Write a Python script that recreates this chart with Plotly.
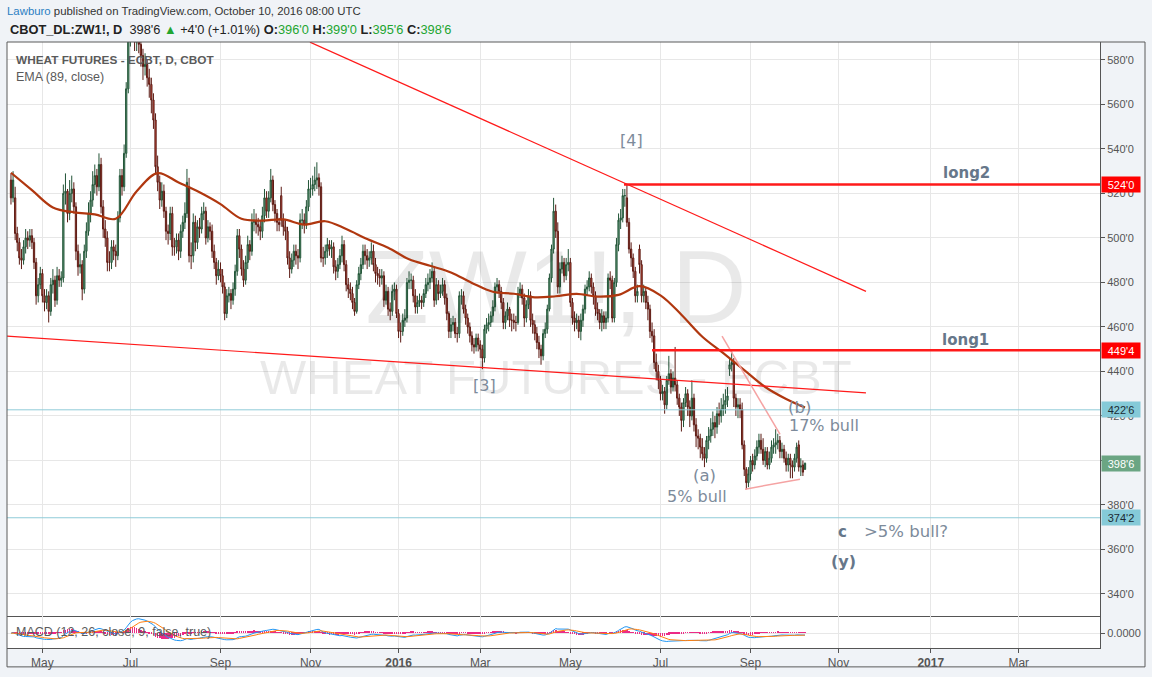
import numpy as np
import pandas as pd
import plotly.graph_objects as go
from plotly.subplots import make_subplots

# ---------------- data ----------------
holidays = ["2015-05-25", "2015-07-03", "2015-09-07", "2015-11-26", "2015-12-25",
            "2016-01-01", "2016-01-18", "2016-02-15", "2016-03-25", "2016-05-30",
            "2016-07-04", "2016-09-05"]

opens = [
    526, 518, 518, 502, 498, 491, 490, 496, 500, 499,
    501, 498, 489, 474, 479, 484, 474, 471, 474, 467,
    479, 481, 472, 483, 481, 482, 520, 521, 511, 520,
    522, 514, 494, 487, 488, 477, 494, 503, 511, 517,
    524, 528, 523, 533, 514, 504, 500, 489, 489, 496,
    494, 492, 509, 528, 523, 538, 567, 590, 597, 594,
    588, 592, 587, 582, 577, 578, 572, 569, 562, 553,
    532, 525, 517, 521, 512, 503, 502, 511, 496, 496,
    499, 494, 503, 507, 511, 523, 492, 492, 507, 498,
    505, 504, 511, 512, 500, 505, 503, 494, 489, 483,
    486, 483, 478, 466, 474, 475, 472, 477, 485, 501,
    495, 486, 481, 489, 497, 494, 507, 508, 506, 505,
    503, 510, 518, 512, 518, 526, 515, 511, 507, 519,
    508, 505, 503, 491, 486, 490, 494, 492, 491, 508,
    508, 506, 514, 522, 522, 524, 526, 527, 523, 491,
    491, 494, 497, 495, 496, 487, 485, 488, 492, 497,
    488, 479, 477, 475, 471, 467, 479, 484, 488, 494,
    492, 490, 491, 494, 488, 484, 483, 482, 483, 472,
    476, 468, 467, 476, 477, 466, 458, 458, 463, 464,
    480, 481, 481, 474, 469, 471, 472, 471, 475, 479,
    480, 482, 485, 472, 479, 475, 476, 479, 473, 466,
    458, 461, 462, 457, 457, 474, 474, 468, 464, 460,
    456, 452, 451, 455, 452, 450, 446, 459, 461, 462,
    465, 469, 478, 479, 476, 471, 462, 465, 468, 463,
    463, 462, 462, 475, 477, 473, 464, 470, 474, 463,
    461, 457, 453, 450, 447, 457, 459, 468, 482, 495,
    512, 503, 478, 486, 489, 483, 488, 489, 471, 464,
    462, 463, 458, 463, 468, 477, 478, 482, 478, 474,
    468, 466, 462, 465, 462, 464, 482, 481, 464, 480,
    497, 508, 509, 519, 518, 507, 495, 491, 485, 474,
    495, 488, 474, 476, 471, 468, 458, 456, 444, 440,
    436, 430, 431, 425, 436, 439, 433, 437, 434, 428,
    424, 418, 426, 430, 424, 420, 428, 416, 411, 410,
    406, 403, 401, 409, 411, 414, 417, 415, 421, 420,
    423, 425, 427, 441, 443, 444, 428, 424, 425, 423,
    407, 396, 390, 394, 400, 398, 402, 406, 409, 405,
    400, 404, 398, 401, 406, 407, 408, 409, 404, 405,
    401, 398, 401, 398, 397, 401, 407, 397, 398, 396,
]
highs = [
    529, 530, 523, 505, 500, 495, 499, 504, 503, 504,
    504, 500, 491, 482, 487, 486, 477, 477, 476, 482,
    486, 483, 487, 486, 485, 524, 529, 522, 526, 528,
    525, 516, 497, 493, 490, 497, 507, 516, 521, 530,
    533, 531, 538, 536, 517, 508, 503, 494, 499, 499,
    497, 512, 531, 531, 542, 570, 594, 604, 605, 598,
    596, 595, 590, 585, 583, 580, 576, 572, 565, 556,
    537, 528, 525, 524, 514, 506, 514, 514, 500, 502,
    502, 506, 510, 516, 531, 527, 498, 511, 510, 508,
    509, 514, 516, 514, 508, 507, 506, 497, 491, 490,
    489, 486, 480, 477, 478, 477, 480, 488, 504, 504,
    497, 490, 492, 501, 499, 511, 513, 511, 509, 508,
    514, 522, 521, 521, 531, 528, 517, 513, 509, 523,
    511, 508, 505, 494, 493, 497, 497, 495, 511, 513,
    511, 517, 526, 527, 528, 532, 534, 529, 525, 496,
    497, 500, 499, 499, 498, 490, 491, 495, 501, 499,
    490, 482, 480, 478, 473, 481, 487, 491, 497, 497,
    495, 494, 498, 497, 491, 487, 486, 486, 485, 479,
    478, 471, 479, 480, 479, 468, 462, 466, 468, 482,
    485, 484, 483, 477, 474, 475, 474, 477, 482, 484,
    486, 489, 487, 482, 481, 479, 482, 481, 475, 467,
    464, 465, 464, 460, 476, 477, 476, 470, 466, 462,
    458, 455, 457, 457, 454, 452, 461, 464, 466, 467,
    472, 480, 482, 481, 478, 473, 467, 471, 469, 466,
    466, 465, 478, 480, 479, 475, 472, 477, 476, 466,
    463, 460, 456, 452, 459, 462, 470, 484, 497, 518,
    515, 507, 489, 492, 491, 491, 495, 491, 473, 467,
    466, 465, 466, 470, 479, 481, 485, 484, 480, 476,
    471, 468, 468, 467, 467, 484, 485, 483, 482, 500,
    511, 513, 522, 522, 524, 509, 498, 493, 487, 479,
    497, 490, 479, 478, 474, 470, 462, 459, 448, 443,
    438, 434, 433, 438, 447, 441, 440, 451, 436, 430,
    426, 428, 433, 432, 427, 436, 430, 419, 414, 412,
    410, 406, 411, 415, 419, 422, 420, 424, 426, 428,
    430, 432, 433, 446, 449, 446, 430, 428, 428, 426,
    409, 397, 397, 402, 403, 405, 409, 412, 412, 410,
    406, 406, 404, 409, 410, 414, 412, 411, 408, 407,
    404, 403, 403, 400, 403, 408, 409, 401, 400, 399,
]
lows = [
    515, 516, 499, 494, 488, 486, 488, 493, 495, 496,
    495, 486, 470, 471, 477, 471, 467, 468, 462, 465,
    475, 469, 470, 478, 478, 480, 515, 507, 508, 516,
    511, 490, 483, 484, 472, 475, 491, 501, 507, 514,
    520, 519, 521, 511, 500, 496, 485, 485, 486, 490,
    487, 490, 507, 519, 521, 536, 565, 586, 589, 584,
    584, 583, 577, 571, 573, 568, 563, 556, 549, 529,
    521, 513, 514, 509, 499, 497, 499, 492, 492, 493,
    490, 491, 500, 504, 509, 489, 486, 489, 494, 495,
    500, 502, 508, 497, 498, 499, 491, 486, 479, 481,
    480, 475, 463, 464, 471, 468, 470, 474, 483, 491,
    483, 478, 479, 486, 490, 492, 503, 502, 501, 499,
    500, 507, 509, 509, 516, 512, 507, 503, 503, 505,
    501, 499, 488, 482, 484, 487, 488, 486, 489, 504,
    502, 504, 512, 518, 519, 521, 522, 519, 489, 487,
    488, 491, 492, 491, 484, 481, 482, 486, 489, 485,
    476, 473, 472, 468, 465, 466, 477, 481, 486, 488,
    486, 487, 488, 485, 480, 479, 478, 479, 469, 470,
    465, 463, 465, 472, 464, 455, 453, 456, 460, 462,
    477, 477, 471, 466, 466, 469, 468, 469, 473, 476,
    477, 480, 469, 470, 472, 473, 474, 470, 463, 455,
    455, 458, 455, 453, 455, 470, 466, 461, 457, 453,
    449, 448, 449, 449, 446, 441, 444, 457, 458, 460,
    462, 467, 475, 473, 468, 459, 459, 463, 460, 458,
    459, 458, 461, 473, 470, 460, 462, 468, 460, 457,
    454, 450, 446, 443, 445, 455, 457, 467, 480, 493,
    500, 475, 475, 484, 480, 481, 485, 469, 461, 458,
    459, 455, 454, 460, 466, 474, 476, 475, 470, 465,
    463, 459, 458, 459, 459, 462, 477, 462, 462, 478,
    494, 504, 507, 514, 505, 493, 487, 482, 471, 471,
    484, 471, 471, 468, 463, 455, 453, 441, 436, 432,
    427, 427, 421, 423, 434, 430, 431, 431, 425, 420,
    413, 415, 424, 420, 415, 418, 413, 406, 405, 401,
    400, 397, 399, 405, 408, 411, 410, 412, 416, 417,
    420, 421, 424, 438, 440, 424, 420, 419, 419, 405,
    393, 387, 388, 391, 395, 396, 400, 403, 403, 398,
    397, 396, 396, 399, 403, 403, 405, 401, 401, 399,
    395, 395, 392, 392, 395, 399, 395, 393, 393, 395.75,
]
closes = [
    518, 526, 502, 498, 491, 490, 496, 500, 499, 501,
    498, 489, 474, 479, 484, 474, 471, 474, 467, 479,
    481, 472, 483, 481, 482, 520, 521, 511, 520, 522,
    514, 494, 487, 488, 477, 494, 503, 511, 517, 524,
    528, 523, 533, 514, 504, 500, 489, 489, 496, 494,
    492, 509, 528, 523, 538, 567, 590, 597, 594, 588,
    592, 587, 582, 577, 578, 572, 569, 562, 553, 532,
    525, 517, 521, 512, 503, 502, 511, 496, 496, 499,
    494, 503, 507, 511, 525, 492, 492, 507, 498, 505,
    504, 511, 512, 500, 505, 503, 494, 489, 483, 486,
    483, 478, 466, 474, 475, 472, 477, 485, 501, 495,
    486, 481, 489, 497, 494, 507, 508, 506, 505, 503,
    510, 518, 512, 518, 526, 515, 511, 507, 506, 508,
    505, 503, 491, 486, 490, 494, 492, 491, 508, 508,
    506, 514, 522, 522, 524, 526, 527, 523, 491, 491,
    494, 497, 495, 496, 487, 485, 488, 492, 497, 488,
    479, 477, 475, 471, 467, 479, 484, 488, 494, 492,
    490, 491, 494, 488, 484, 483, 482, 483, 472, 476,
    468, 467, 476, 477, 466, 458, 458, 463, 464, 480,
    481, 481, 474, 469, 471, 472, 471, 475, 479, 480,
    482, 485, 472, 479, 475, 476, 479, 473, 466, 458,
    461, 462, 457, 457, 474, 474, 468, 464, 460, 456,
    452, 451, 455, 452, 450, 446, 459, 461, 462, 465,
    469, 478, 479, 476, 471, 462, 465, 468, 463, 463,
    462, 462, 475, 477, 473, 464, 470, 474, 463, 461,
    457, 453, 450, 447, 457, 459, 468, 482, 495, 512,
    503, 478, 486, 489, 483, 488, 489, 471, 464, 462,
    463, 458, 463, 468, 477, 478, 482, 478, 474, 468,
    466, 462, 465, 462, 464, 482, 481, 464, 480, 497,
    508, 509, 519, 519, 507, 495, 491, 485, 474, 476,
    488, 474, 476, 471, 468, 458, 456, 444, 440, 436,
    430, 431, 425, 436, 439, 433, 437, 434, 428, 424,
    418, 426, 430, 424, 420, 428, 416, 411, 410, 406,
    403, 401, 409, 411, 414, 417, 415, 421, 420, 423,
    425, 427, 429, 443, 444, 428, 424, 425, 423, 407,
    396, 390, 394, 400, 398, 402, 406, 409, 405, 400,
    404, 398, 401, 406, 407, 408, 409, 404, 405, 401,
    398, 401, 398, 397, 401, 406, 397, 397.5, 394.75, 398.75,
]

# EMA(89): every 10th bar, plus the last bar
ema89 = [529.3, 521.5, 513.7, 511.5, 510.6, 508.6, 521.0, 529.1, 524.9, 520.5,
         515.2, 508.6, 507.8, 508.3, 506.0, 507.5, 504.0, 499.5, 495.6, 490.4,
         487.5, 484.5, 479.8, 475.8, 474.9, 473.3, 473.8, 474.9, 473.6, 474.4,
         478.3, 474.2, 465.5, 455.6, 448.2, 440.6, 433.0, 427.6, 423.75]

tick_months = ["2015-05", "2015-07", "2015-09", "2015-11", "2016-01", "2016-03",
               "2016-05", "2016-07", "2016-09", "2016-11", "2017-01", "2017-03"]
tick_labels = ["May", "Jul", "Sep", "Nov", "<b>2016</b>", "Mar",
               "May", "Jul", "Sep", "Nov", "<b>2017</b>", "Mar"]
price_ticks = [340, 360, 380, 400, 420, 440, 460, 480, 500, 520, 540, 560, 580]
price_tick_text = ["340'0", "360'0", "380'0", "400'0", "420'0", "440'0", "460'0",
                   "480'0", "500'0", "520'0", "540'0", "560'0", "580'0"]

# price-scale labels: (price, text, background, text colour)
price_labels = [(524.0, "524'0", "#ff0000", "#ffffff"),
                (449.5, "449'4", "#ff0000", "#ffffff"),
                (422.75, "422'6", "#85cad8", "#1b2a33"),
                (398.75, "398'6", "#6ba583", "#ffffff"),
                (374.25, "374'2", "#85cad8", "#1b2a33")]

# ---------------- calendar ----------------
hol = pd.DatetimeIndex(pd.to_datetime(holidays))
past = pd.bdate_range("2015-03-02", "2016-10-10")
past = past[~past.isin(hol)]
N = len(closes)
dates = past[-N:]
future = pd.bdate_range("2016-10-11", "2017-08-31")
cal = past.append(future)
off = len(past) - N
HALF = pd.Timedelta(hours=12)


def at(i):
    """bar index (may be fractional / in the future) -> timestamp on the axis"""
    t = i + 0.5
    k = int(np.floor(t))
    return cal[off + k] + pd.Timedelta(days=t - k)


xs = dates + HALF
tick_x = [cal[cal >= pd.Timestamp(m + "-01")][0] + HALF for m in tick_months]

# plot area in pixels
PL, PR, PT, PB = 7, 1100, 42, 652


def px(x, y):
    return (x - PL) / (PR - PL), (PB - y) / (PB - PT)


# ---------------- figure ----------------
main_h = (620 - PT) / (PB - PT)
fig = make_subplots(rows=2, cols=1, shared_xaxes=True, vertical_spacing=0,
                    row_heights=[main_h, 1 - main_h])

WM = "rgba(0,0,0,0.085)"
fig.add_trace(go.Scatter(x=[at(260.1)], y=[473.5], mode="text", text=["ZW1!, D"],
                         textposition="middle center",
                         textfont=dict(family="Liberation Sans", size=104, color=WM),
                         hoverinfo="skip", showlegend=False), row=1, col=1)
fig.add_trace(go.Scatter(x=[at(260.1)], y=[435.4], mode="text", text=["WHEAT FUTURES - ECBT"],
                         textposition="middle center",
                         textfont=dict(family="Liberation Sans", size=49, color=WM),
                         hoverinfo="skip", showlegend=False), row=1, col=1)

fig.add_trace(go.Candlestick(
    x=xs, open=opens, high=highs, low=lows, close=closes,
    increasing=dict(line=dict(color="#225437", width=1), fillcolor="#6ba583"),
    decreasing=dict(line=dict(color="#5b1a13", width=1), fillcolor="#d75442"),
    whiskerwidth=0, hoverinfo="skip", showlegend=False), row=1, col=1)

ema_x = [xs[i] for i in range(0, N, 10)] + [xs[-1]]
fig.add_trace(go.Scatter(x=ema_x, y=ema89, mode="lines",
                         line=dict(color="#b0370f", width=2.2, shape="spline", smoothing=1.0),
                         hoverinfo="skip", showlegend=False), row=1, col=1)

# MACD (12, 26, 9) of the closes
cs = pd.Series(closes, dtype=float)
macd = cs.ewm(span=12, adjust=False).mean() - cs.ewm(span=26, adjust=False).mean()
sig = macd.ewm(span=9, adjust=False).mean()
hist = macd - sig
fig.add_trace(go.Bar(x=xs, y=hist, marker=dict(color="#ec2a86", line=dict(width=0)),
                     width=0.3 * 86400000, hoverinfo="skip", showlegend=False), row=2, col=1)
fig.add_trace(go.Scatter(x=xs, y=macd, mode="lines", line=dict(color="#2196f3", width=1),
                         hoverinfo="skip", showlegend=False), row=2, col=1)
fig.add_trace(go.Scatter(x=xs, y=sig, mode="lines", line=dict(color="#ff7f0e", width=1),
                         hoverinfo="skip", showlegend=False), row=2, col=1)
m_top = float(macd.max()) / 0.85
m_bot = -m_top * 15 / 17

# ---------------- drawings ----------------
RED = "#ff1a1a"
PINK = "#f5a3a3"
trend_lines = [  # (bar0, price0, bar1, price1, colour, width)
    (142.7, 588.0, 408.1, 476.0, RED, 1.2),
    (-1.9, 455.9, 408.1, 430.4, RED, 1.2),
    (339.4, 455.9, 367.1, 411.7, PINK, 1.5),
    (350.4, 387.1, 376.6, 391.6, PINK, 1.5),
    (292.6, 524.0, 530.0, 524.0, RED, 2.6),
    (306.0, 449.5, 530.0, 449.5, RED, 2.6),
]
for b0, p0, b1, p1, col, w in trend_lines:
    fig.add_shape(type="line", xref="x", yref="y", x0=at(b0), y0=p0, x1=at(b1), y1=p1,
                  line=dict(color=col, width=w), layer="above")
for p in (422.75, 374.25):
    fig.add_shape(type="line", xref="x domain", yref="y", x0=0, x1=1, y0=p, y1=p,
                  line=dict(color="#8fcbd8", width=1), layer="above")

ann = []
GRAY_T = "#7d8b9b"
wave_labels = [  # (bar, price, text, size, bold)
    (296.4, 543.8, "[4]", 16, False),
    (225.8, 433.6, "[3]", 16, False),
    (456.3, 529.1, "long2", 15, True),
    (455.8, 454.1, "long1", 15, True),
    (376.6, 423.6, "(b)", 16.5, False),
    (388.1, 415.7, "17% bull", 16, False),
    (330.8, 393.4, "(a)", 16.5, False),
    (327.4, 384.0, "5% bull", 16, False),
    (397.1, 367.9, "c", 15, True),
    (427.2, 367.9, ">5% bull?", 16.5, False),
    (397.6, 354.5, "(y)", 16, True),
]
for b, p, t, s, bold in wave_labels:
    ann.append(dict(xref="x", yref="y", x=at(b), y=p, text=("<b>%s</b>" % t) if bold else t,
                    showarrow=False, xanchor="center", yanchor="middle",
                    font=dict(family="DejaVu Sans", size=s, color="#66778a" if bold else GRAY_T)))

for p, t, bg, fg in price_labels:
    ann.append(dict(xref="x domain", yref="y", x=1, y=p, text=t, showarrow=False,
                    xanchor="left", yanchor="middle", xshift=1, bgcolor=bg, width=36, height=13,
                    borderpad=1, align="center",
                    font=dict(family="Liberation Sans", size=11, color=fg)))

GREEN = "#22a530"
x0, y0 = px(5, 11)
ann.append(dict(xref="paper", yref="paper", x=x0, y=y0, showarrow=False, xanchor="left",
                yanchor="middle",
                text="<span style='color:#2b7fc3'>Lawburo</span> published on TradingView.com, "
                     "October 10, 2016 08:00 UTC",
                font=dict(family="Liberation Sans", size=11.4, color="#333")))
x0, y0 = px(8, 29)
ann.append(dict(xref="paper", yref="paper", x=x0, y=y0, showarrow=False, xanchor="left",
                yanchor="middle",
                text=("<b>CBOT_DL:ZW1!, D</b>  398'6 <span style='color:%s'>▲</span> +4'0 (+1.01%%) "
                      "<b>O:</b><span style='color:%s'>396'0</span> <b>H:</b><span style='color:%s'>399'0</span> "
                      "<b>L:</b><span style='color:%s'>395'6</span> <b>C:</b><span style='color:%s'>398'6</span>")
                     % (GREEN, GREEN, GREEN, GREEN, GREEN),
                font=dict(family="Liberation Sans", size=12.8, color="#222")))
x0, y0 = px(14, 60)
ann.append(dict(xref="paper", yref="paper", x=x0, y=y0, showarrow=False, xanchor="left",
                yanchor="middle", text="<b>WHEAT FUTURES - ECBT, D, CBOT</b>",
                font=dict(family="Liberation Sans", size=11.8, color="#5a5a5a")))
x0, y0 = px(14, 77)
ann.append(dict(xref="paper", yref="paper", x=x0, y=y0, showarrow=False, xanchor="left",
                yanchor="middle", text="EMA (89, close)",
                font=dict(family="Liberation Sans", size=12.5, color="#5a5a5a")))
x0, y0 = px(14, 636)
ann.append(dict(xref="paper", yref="paper", x=x0, y=y0, showarrow=False, xanchor="left",
                yanchor="middle", text="MACD (12, 26, close, 9, false, true)",
                font=dict(family="Liberation Sans", size=12.5, color="#5a5a5a")))

# outer frame
fx0, fy0 = px(7, 671)
fx1, fy1 = px(1145, 42)
fig.add_shape(type="rect", xref="paper", yref="paper", x0=fx0, y0=fy0, x1=fx1, y1=fy1,
              line=dict(color="#5a5a5a", width=1), fillcolor="rgba(0,0,0,0)", layer="above")

fig.update_layout(width=1152, height=677, margin=dict(l=PL, r=1152 - PR, t=PT, b=677 - PB),
                  paper_bgcolor="#f0f3f7", plot_bgcolor="#ffffff", showlegend=False,
                  font=dict(family="Liberation Sans", size=11, color="#555"),
                  annotations=ann, bargap=0, boxgap=0.15)

rb = [dict(bounds=["sat", "mon"]), dict(values=holidays)]
fig.update_xaxes(rangebreaks=rb, range=[at(-1.9), at(519.8)], tickmode="array",
                 tickvals=tick_x, ticktext=tick_labels, showgrid=True, gridcolor="#e7e7e7",
                 zeroline=False, rangeslider_visible=False, showline=True, linecolor="#555",
                 linewidth=1, fixedrange=True)
fig.update_xaxes(showticklabels=False, ticks="", row=1, col=1)
fig.update_xaxes(ticks="outside", ticklen=4, tickcolor="#555",
                 tickfont=dict(family="Liberation Sans", size=12, color="#555"), row=2, col=1)
fig.update_yaxes(side="right", range=[330, 588.05], tickmode="array", tickvals=price_ticks,
                 ticktext=price_tick_text, showgrid=True, gridcolor="#e7e7e7", zeroline=False,
                 showline=True, linecolor="#555", ticks="outside", ticklen=4, tickcolor="#555",
                 tickfont=dict(family="Liberation Sans", size=11, color="#555"),
                 fixedrange=True, row=1, col=1)
fig.update_yaxes(side="right", range=[m_bot, m_top], tickmode="array", tickvals=[0],
                 ticktext=["0.0000"], showgrid=True, gridcolor="#e7e7e7", zeroline=False,
                 showline=True, linecolor="#555", ticks="outside", ticklen=4, tickcolor="#555",
                 tickfont=dict(family="Liberation Sans", size=11, color="#555"),
                 fixedrange=True, row=2, col=1)

fig.write_html("out.html", config={"displayModeBar": False},
               post_script="document.body.style.margin='0';document.body.style.padding='0';")
